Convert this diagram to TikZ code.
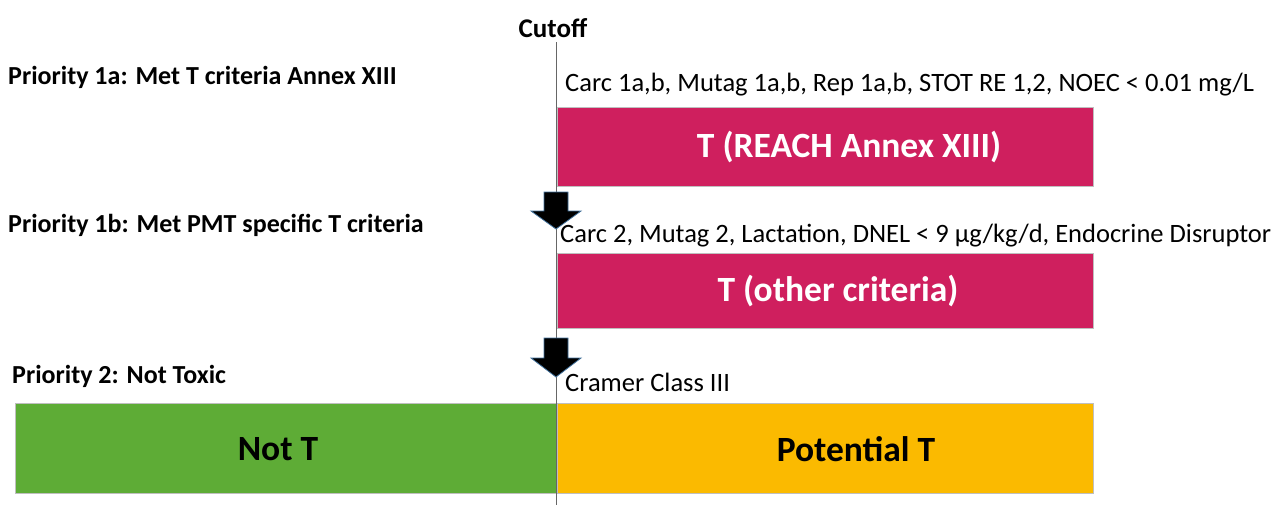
\documentclass[tikz,border=0pt]{standalone}
\usepackage{fontspec}
\setmainfont{Carlito}
\definecolor{tmag}{RGB}{207,31,94}
\definecolor{tgreen}{RGB}{94,172,54}
\definecolor{torange}{RGB}{251,186,0}
\definecolor{arrowedge}{RGB}{65,113,156}
\begin{document}
\begin{tikzpicture}[x=1pt,y=-1pt,
  bar/.style={draw=black!25, line width=0.8pt},
  bartext/.style={inner sep=0pt, font=\fontsize{35.5}{40}\selectfont\bfseries},
  prio/.style={anchor=west, inner sep=0pt, font=\fontsize{26}{30}\selectfont\bfseries},
  crit/.style={anchor=west, inner sep=0pt, font=\fontsize{26.5}{30}\selectfont},
  blockarrow/.style={fill=black, draw=arrowedge, line width=0.8pt, line join=miter}]
\useasboundingbox (0,0) rectangle (1277,506);
% boxes
\path[bar, fill=tmag] (557,107) rectangle (1093,186);
\node[bartext, text=white] (tA) at (849,147) {T (REACH Annex XIII)};
\path[bar, fill=tmag] (557,253) rectangle (1093,328);
\node[bartext, text=white] (tB) at (838,291) {T (other criteria)};
\path[bar, fill=tgreen] (15,403) rectangle (556,493);
\node[bartext] (notT) at (278,449) {Not T};
\path[bar, fill=torange] (557,403) rectangle (1093,493);
\node[bartext] (potT) at (856,449) {Potential T};
% cutoff line
\node[font=\fontsize{27}{30}\selectfont\bfseries, inner sep=0pt] (cut) at (553,28) {Cutoff};
\coordinate (ltop) at (556,42);
\coordinate (lbot) at (556,505);
\draw[black!60, line width=0.9pt] (ltop) -- (lbot);
% block arrows
\draw[blockarrow] (544,192) -- (568,192) -- (568,211) -- (581,211) -- (556,229) -- (531,211) -- (544,211) -- cycle;
\draw[blockarrow] (544,338) -- (568,338) -- (568,358) -- (581,358) -- (556,377) -- (531,358) -- (544,358) -- cycle;
% labels
\node[prio] (p1a) at (8,77) {Priority 1a: Met T criteria Annex XIII};
\node[prio] (p1b) at (8,225) {Priority 1b: Met PMT specific T criteria};
\node[prio] (p2) at (12,376) {Priority 2: Not Toxic};
\node[crit] (c1) at (565,85) {Carc 1a,b, Mutag 1a,b, Rep 1a,b, STOT RE 1,2, NOEC < 0.01 mg/L};
\node[crit] (c2) at (560,236) {Carc 2, Mutag 2, Lactation, DNEL < 9 µg/kg/d, Endocrine Disruptor};
\node[crit] (c3) at (565,382) {Cramer Class III};
\end{tikzpicture}
\end{document}
